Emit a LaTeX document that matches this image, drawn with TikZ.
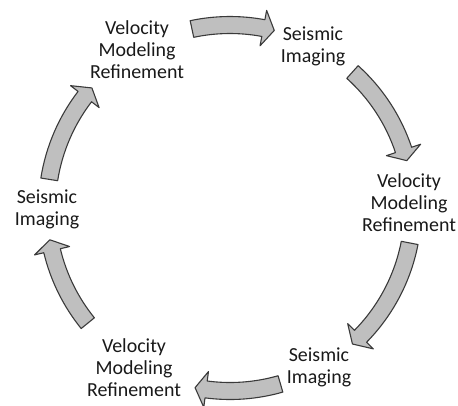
\documentclass[tikz,border=0pt]{standalone}
\usepackage{fontspec}
\setmainfont{Carlito}
\usepackage{tikz}

\definecolor{arrowgray}{HTML}{BFBFBF}
\definecolor{edgegray}{HTML}{3A3A3A}

\tikzset{
  ringarrow/.style={fill=arrowgray, draw=edgegray, line width=1.1pt, line join=round},
  steplabel/.style={align=center, text=black!90, font=\fontsize{20}{22}\selectfont}
}

\begin{document}
\begin{tikzpicture}[x=1bp,y=1bp]
\useasboundingbox (-230,-197) rectangle (228,208);
% labels round the cycle
\node[steplabel] (vmrTop) at (-93,158) {Velocity\\Modeling\\Refinement};
\node[steplabel] (siTop) at (83,162) {Seismic\\Imaging};
\node[steplabel] (vmrRight) at (179,5) {Velocity\\Modeling\\Refinement};
\node[steplabel] (siBottom) at (89,-159) {Seismic\\Imaging};
\node[steplabel] (vmrBottom) at (-96,-160) {Velocity\\Modeling\\Refinement};
\node[steplabel] (siLeft) at (-183,-1) {Seismic\\Imaging};
% curved block arrows, clockwise
\draw[ringarrow] (102:191.5) arc[start angle=102,end angle=79.5,radius=191.5] -- (79.5:201) -- (76:183) -- (79.5:165) -- (79.5:174.5) arc[start angle=79.5,end angle=102,radius=174.5] -- cycle;
\draw[ringarrow] (48:191.5) arc[start angle=48,end angle=18.5,radius=191.5] -- (18.5:201) -- (15:183) -- (18.5:165) -- (18.5:174.5) arc[start angle=18.5,end angle=48,radius=174.5] -- cycle;
\draw[ringarrow] (-11:191.5) arc[start angle=-11,end angle=-44.5,radius=191.5] -- (-44.5:201) -- (-48:183) -- (-44.5:165) -- (-44.5:174.5) arc[start angle=-44.5,end angle=-11,radius=174.5] -- cycle;
\draw[ringarrow] (-74:191.5) arc[start angle=-74,end angle=-97.5,radius=191.5] -- (-97.5:201) -- (-101:183) -- (-97.5:165) -- (-97.5:174.5) arc[start angle=-97.5,end angle=-74,radius=174.5] -- cycle;
\draw[ringarrow] (219:191.5) arc[start angle=219,end angle=193.5,radius=191.5] -- (193.5:201) -- (190:183) -- (193.5:165) -- (193.5:174.5) arc[start angle=193.5,end angle=219,radius=174.5] -- cycle;
\draw[ringarrow] (171:191.5) arc[start angle=171,end angle=142.5,radius=191.5] -- (142.5:201) -- (139:183) -- (142.5:165) -- (142.5:174.5) arc[start angle=142.5,end angle=171,radius=174.5] -- cycle;
\end{tikzpicture}
\end{document}
